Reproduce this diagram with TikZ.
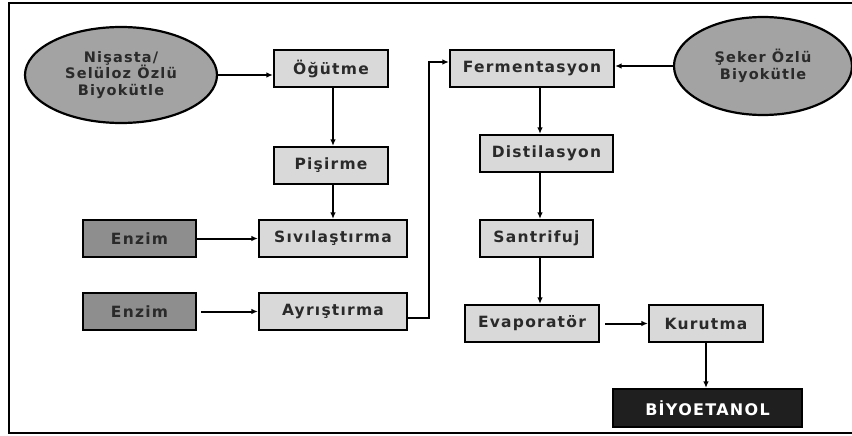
\documentclass[tikz,border=0pt]{standalone}
\usepackage{fontspec}
\setmainfont{DejaVu Sans}
\newfontfamily\boxfont[LetterSpace=8]{DejaVu Sans}
\usetikzlibrary{shapes.geometric, arrows.meta}

\definecolor{boxgray}{HTML}{D9D9D9}
\definecolor{enzgray}{HTML}{8E8E8E}
\definecolor{ellgray}{HTML}{A3A3A3}
\definecolor{txtgray}{HTML}{2A2A2A}

\tikzset{
  proc/.style={rectangle, draw, line width=2.2pt, fill=boxgray, minimum height=37pt,
    inner sep=0pt, text=txtgray, font=\boxfont\bfseries\fontsize{15.5}{18}\selectfont},
  enz/.style={proc, fill=enzgray},
  feed/.style={ellipse, draw, line width=2.2pt, fill=ellgray, inner sep=0pt, align=center,
    text=txtgray, font=\boxfont\bfseries\fontsize{14.5}{16.5}\selectfont},
  prod/.style={proc, fill=black!88, text=white, font=\boxfont\bfseries\fontsize{16}{18}\selectfont},
  flow/.style={-{Latex[length=6.5pt,width=5.5pt]}, line width=2pt},
}

\begin{document}
\begin{tikzpicture}[x=1pt, y=-1pt]
    \useasboundingbox (0,0) rectangle (852,436);
    % Frame
    \draw[line width=2pt] (852,3) -- (9,3) -- (9,433) -- (852,433);

    % Draw nodes
    \node[feed, minimum width=192pt, minimum height=96pt] (nis) at (121,75) {Nişasta/\\Selüloz Özlü\\Biyokütle};
    \node[feed, minimum width=178pt, minimum height=98pt] (sek) at (763,66) {Şeker Özlü\\Biyokütle};

    \node[proc, minimum width=114pt] (ogut) at (331,68.5) {Öğütme};
    \node[proc, minimum width=114pt] (pis) at (331,165.5) {Pişirme};
    \node[proc, minimum width=148pt] (siv) at (333,238.5) {Sıvılaştırma};
    \node[proc, minimum width=148pt] (ayr) at (333,311.5) {Ayrıştırma};
    \node[enz, minimum width=113pt] (enz1) at (139.5,238.5) {Enzim};
    \node[enz, minimum width=113pt] (enz2) at (139.5,311.5) {Enzim};

    \node[proc, minimum width=164pt] (ferm) at (532,68.5) {Fermentasyon};
    \node[proc, minimum width=133pt] (dist) at (546.5,153.5) {Distilasyon};
    \node[proc, minimum width=113pt] (sant) at (536.5,238.5) {Santrifuj};
    \node[proc, minimum width=134pt] (evap) at (532,323.5) {Evaporatör};
    \node[proc, minimum width=114pt] (kur) at (706,323.5) {Kurutma};
    \node[prod, minimum width=189pt, minimum height=38pt] (bio) at (707.5,408) {BİYOETANOL};

    \coordinate (col) at (540,0);
    \coordinate (lcol) at (333,0);

    % Draw connections
    \draw[flow] (nis.east) -- (ogut.west |- nis.east);
    \draw[flow] (ogut.south -| lcol) -- (pis.north -| lcol);
    \draw[flow] (pis.south -| lcol) -- (siv.north -| lcol);
    \draw[flow] (enz1) -- (siv);
    \draw[flow] ([xshift=4pt]enz2.east) -- (ayr.west);
    \draw[flow] ([yshift=-6.5pt]ayr.east) -- ++(21,0) |- ([yshift=6.5pt]ferm.west);
    \draw[flow] (sek.west) -- (ferm.east |- sek.west);
    \draw[flow] (ferm.south -| col) -- (dist.north -| col);
    \draw[flow] (dist.south -| col) -- (sant.north -| col);
    \draw[flow] (sant.south -| col) -- (evap.north -| col);
    \draw[flow] ([xshift=5pt]evap.east) -- (kur.west);
    \draw[flow] (kur.south) -- (bio.north -| kur.south);
\end{tikzpicture}
\end{document}
